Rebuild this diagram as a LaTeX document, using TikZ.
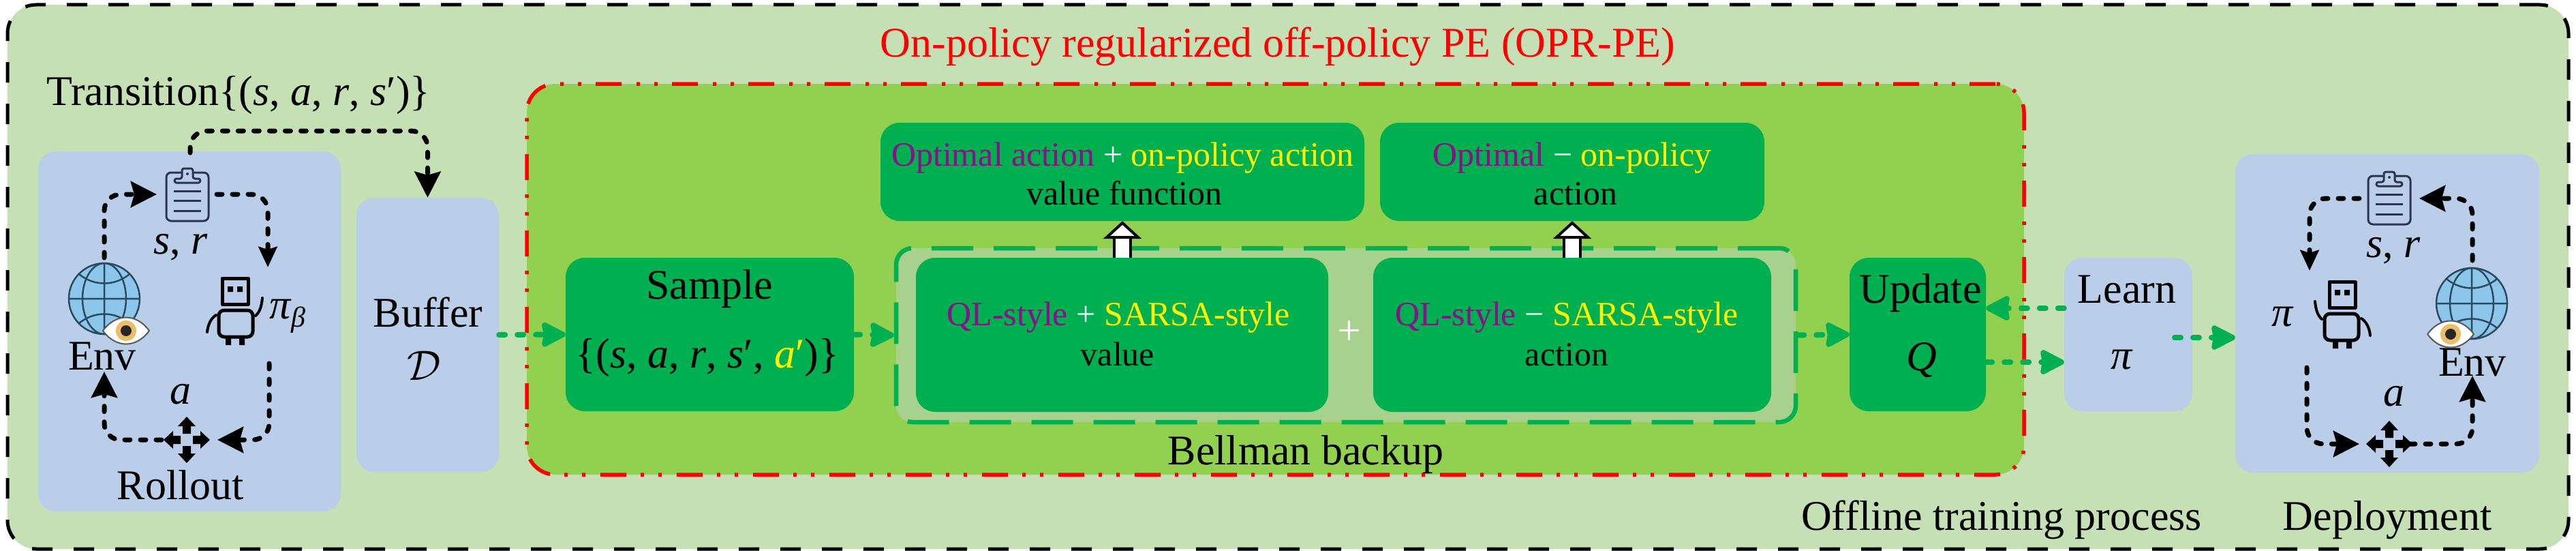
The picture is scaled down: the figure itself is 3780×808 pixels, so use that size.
\RequirePackage{fix-cm}
\documentclass[tikz,border=0pt]{standalone}
\usepackage{fontspec}
\setmainfont{Liberation Serif}
\usetikzlibrary{arrows.meta}
\definecolor{outerbg}{HTML}{C5E0B4}
\definecolor{limebg}{HTML}{92D050}
\definecolor{okgreen}{HTML}{00B050}
\definecolor{bluebg}{HTML}{BBCEE9}
\definecolor{backupbg}{HTML}{A9D18E}
\definecolor{qlpurple}{HTML}{8A0F8A}
\definecolor{iconline}{HTML}{2B3550}
\definecolor{globeblue}{HTML}{8CC6EA}
\definecolor{globeline}{HTML}{2A4A60}
\definecolor{iris}{HTML}{EDBE66}
\tikzset{
lbl/.style={anchor=base, inner sep=0pt},
smalllbl/.style={lbl, font=\fontsize{50}{60}\selectfont},
bluebox/.style={fill=bluebg, rounded corners=26pt, inner sep=0pt},
greenbox/.style={fill=okgreen, rounded corners=28pt, inner sep=0pt},
blackflow/.style={black, line width=7pt, rounded corners=24pt, line cap=round, dash pattern=on 8pt off 15pt},
bigflow/.style={blackflow, -{Stealth[length=38pt, width=38pt, inset=5pt]}},
thinflow/.style={blackflow, -{Stealth[length=30pt, width=27pt, inset=4pt]}},
greenflow/.style={okgreen, line width=8pt, line cap=round, dash pattern=on 9pt off 18pt, -{Stealth[length=40pt, width=40pt, inset=3pt, round=false]}},
whiteflow/.style={draw=black, line width=4pt, double=white, double distance=20pt, -{Triangle[length=26pt, width=56pt, fill=white]}},
clipboard/.pic={
\draw[iconline, line width=3pt, rounded corners=7pt] (-31,-32) rectangle (31,39);
\draw[iconline, line width=3pt, fill=bluebg, rounded corners=3pt] (-19,-17) -- (-19,-23) -- (-8,-23) -- (-8,-38) -- (8,-38) -- (8,-23) -- (19,-23) -- (19,-17) -- cycle;
\fill[iconline] (0,-30) circle(2);
\foreach \yy in {-5,9,24}
\draw[iconline, line width=3pt] (-20,\yy) -- (20,\yy);
},
globeicon/.pic={
\draw[globeline, line width=2.5pt, fill=globeblue] (0,0) circle(52);
\draw[globeline, line width=2.5pt] (0,-52) -- (0,50) (-52,0) -- (52,0) (0,0) ellipse(32 and 52);
\draw[globeline, line width=2.5pt] (-37,-36) .. controls (-15,-18) and (15,-18) .. (37,-36);
\draw[globeline, line width=2.5pt] (-37,36) .. controls (-15,18) and (15,18) .. (37,36);
},
eyeicon/.pic={
\draw[gray!70!black, line width=2pt, fill=white] (-34,0) .. controls (-15,-26) and (15,-26) .. (34,0) .. controls (15,26) and (-15,26) .. cycle;
\fill[iris] (0,0) circle(15);
\fill[black!85] (0,0) circle(8);
},
robot/.pic={
\draw[black, line width=5pt] (-19,-47) rectangle (19,-9);
\fill[black] (-11,-35) rectangle (-3,-27) (3,-35) rectangle (11,-27);
\draw[black, line width=5pt, rounded corners=8pt] (-24,0) rectangle (26,39);
\fill[black] (-14,40) rectangle (-6,51) (6,40) rectangle (14,51);
\draw[black, line width=4pt, line cap=round] (30,8) .. controls (37,2) and (39,-8) .. (40,-18);
\draw[black, line width=4pt, line cap=round] (-41,32) .. controls (-40,22) and (-36,12) .. (-28,7);
},
moveicon/.pic={
\foreach \aa in {0,90,180,270}
\fill[black, rotate=\aa] (0,-34) -- (13,-20) -- (6,-20) -- (6,-9) -- (-6,-9) -- (-6,-20) -- (-13,-20) -- cycle;
}
}
\begin{document}
\begin{tikzpicture}[x=1pt, y=-1pt, font=\fontsize{62}{70}\selectfont, line join=round, >=stealth]
\useasboundingbox (0,0) rectangle (3780,808);
%Nền
\node[fill=outerbg, draw=black, line width=5pt, dash pattern=on 30pt off 31pt, rounded corners=42pt, inner sep=0pt, minimum width=3758pt, minimum height=798pt] (outer) at (1890,406) {};
\node[fill=limebg, draw=red, line width=5.5pt, dash pattern=on 38pt off 21pt on 5pt off 21pt on 5pt off 22pt, rounded corners=42pt, inner sep=0pt, minimum width=2197pt, minimum height=573pt] (opr) at (1871.5,409.5) {};
\node[fill=backupbg, draw=okgreen, line width=6.5pt, dash pattern=on 61pt off 30pt, rounded corners=24pt, inner sep=0pt, minimum width=1320pt, minimum height=255pt] (backup) at (1975,491.5) {};
%Các khối
\foreach \n/\x/\y/\w/\h in {rollout/278/486/444/528, buffer/627.5/491/209/402, learn/3123/490.5/188/225, deploy/3503/459.5/446/467}
\node[bluebox, minimum width=\w pt, minimum height=\h pt] (\n) at (\x,\y) {};
\foreach \n/\x/\y/\w/\h in {sample/1041.5/490.5/423/225, topvalue/1647/252/710/144, topaction/2307/252/564/144, qlvalue/1646.5/491/605/226, qlaction/2307/491/584/226, update/2814/490.5/200/225}
\node[greenbox, minimum width=\w pt, minimum height=\h pt] (\n) at (\x,\y) {};
%Chữ
\node[lbl, red] (title) at (1875,84) {On-policy regularized off-policy PE (OPR-PE)};
\node[lbl] (transition) at (350,154) {Transition\{(\textit{s}, \textit{a}, \textit{r}, \textit{s}′)\}};
\node[lbl] (envA) at (150,542) {Env};
\node[lbl] (obsA) at (265,372) {\textit{s}, \textit{r}};
\node[lbl] (actA) at (265,592) {\textit{a}};
\node[lbl] (rolloutlbl) at (265,732) {Rollout};
\node[anchor=base west, inner sep=0pt] (piA) at (395,467) {\textit{π}\raisebox{-12pt}{\fontsize{42}{50}\selectfont\textit{β}}};
\node[lbl] (bufferlbl) at (628,479) {Buffer};
\node[lbl] (bufferD) at (622,557) {$\mathcal{D}$};
\node[lbl] (samplelbl) at (1041,438) {Sample};
\node[lbl] (sampleset) at (1038,539) {\{(\textit{s}, \textit{a}, \textit{r}, \textit{s}′, \textcolor{yellow}{\textit{a}′})\}};
\node[smalllbl] (topvalueA) at (1647,243) {\textcolor{qlpurple}{Optimal action} \textcolor{white}{+} \textcolor{yellow}{on-policy action}};
\node[smalllbl] (topvalueB) at (1650,300) {value function};
\node[smalllbl] (topactionA) at (2307,243) {\textcolor{qlpurple}{Optimal} \textcolor{white}{−} \textcolor{yellow}{on-policy}};
\node[smalllbl] (topactionB) at (2312,300) {action};
\node[smalllbl] (qlvalueA) at (1641,477) {\textcolor{qlpurple}{QL-style} \textcolor{white}{+} \textcolor{yellow}{SARSA-style}};
\node[smalllbl] (qlvalueB) at (1640,536) {value};
\node[smalllbl] (qlactionA) at (2299,477) {\textcolor{qlpurple}{QL-style} \textcolor{white}{−} \textcolor{yellow}{SARSA-style}};
\node[smalllbl] (qlactionB) at (2299,536) {action};
\node[lbl, white] (plus) at (1980,505) {+};
\node[lbl] (backuplbl) at (1916,681) {Bellman backup};
\node[lbl] (updatelbl) at (2818,444) {Update};
\node[lbl] (qlbl) at (2820,543) {\textit{Q}};
\node[lbl] (learnlbl) at (3121,444) {Learn};
\node[lbl] (pilearn) at (3114,541) {\textit{π}};
\node[lbl] (offline) at (2937,777) {Offline training process};
\node[lbl] (deploylbl) at (3503,777) {Deployment};
\node[lbl] (envB) at (3628,551) {Env};
\node[lbl] (obsB) at (3512,377) {\textit{s}, \textit{r}};
\node[lbl] (actB) at (3513,595) {\textit{a}};
\node[lbl] (piB) at (3350,478) {\textit{π}};
%Biểu tượng
\pic at (275,285) {clipboard};
\pic at (153,438) {globeicon};
\pic at (185,485) {eyeicon};
\pic at (345,455) {robot};
\pic at (274,645) {moveicon};
\pic at (3506,290) {clipboard};
\pic at (3627,445) {globeicon};
\pic at (3596,490) {eyeicon};
\pic[xscale=-1] at (3437,460) {robot};
\pic at (3506,651) {moveicon};
%Điểm nối
\path (153,378) coordinate(envAout)
(230,285) coordinate(clipAin)
(318,285) coordinate(clipAout)
(393,392) coordinate(robotAin)
(395,533) coordinate(robotAout)
(319,645) coordinate(moveAin)
(237,645) coordinate(moveAout)
(153,545) coordinate(envAin)
(279,224) coordinate(clipAtop)
(400,192) coordinate(transbend)
(3628,382) coordinate(envBout)
(3550,291) coordinate(clipBin)
(3462,291) coordinate(clipBout)
(3389,397) coordinate(robotBin)
(3385,539) coordinate(robotBout)
(3462,651) coordinate(moveBin)
(3536,651) coordinate(moveBout)
(3628,551) coordinate(envBin)
(3191,495) coordinate(learnout)
;
%Mũi tên
\draw[bigflow] (envAout) |- (clipAin);
\draw[thinflow] (clipAout) -| (robotAin);
\draw[bigflow] (robotAout) |- (moveAin);
\draw[bigflow] (moveAout) -| (envAin);
\draw[bigflow] (clipAtop) |- (transbend) -| (buffer.north);
\draw[bigflow] (envBout) |- (clipBin);
\draw[thinflow] (clipBout) -| (robotBin);
\draw[bigflow] (robotBout) |- (moveBin);
\draw[bigflow] (moveBout) -| (envBin);
\draw[greenflow] (buffer.east) -- (sample.west);
\draw[greenflow] (sample.east) -- (backup.west);
\draw[greenflow] (backup.east) -- (update.west);
\draw[greenflow] (update.east|-0,531) -- (learn.west|-0,531);
\draw[greenflow] (learn.west|-0,452) -- (update.east|-0,452);
\draw[greenflow] (learnout) -- (deploy.west|-learnout);
\draw[whiteflow] (qlvalue.north-|topvalue.south) -- (topvalue.south);
\draw[whiteflow] (qlaction.north-|topaction.south) -- (topaction.south);
\end{tikzpicture}
\end{document}
